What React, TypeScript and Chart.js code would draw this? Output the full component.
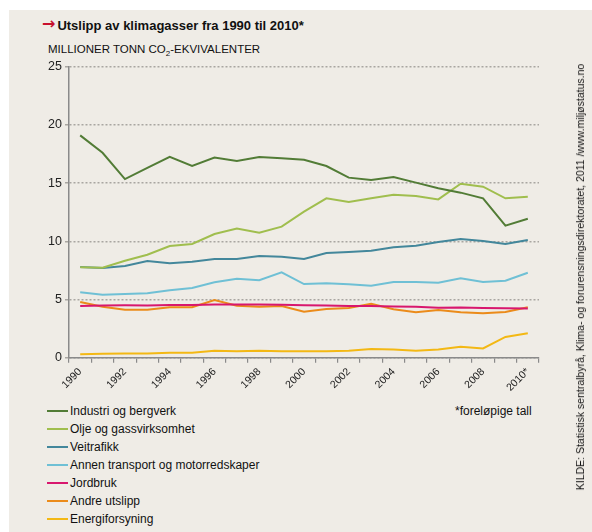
import React, { useEffect, useRef } from "react";
import { Chart, registerables } from "chart.js";
Chart.register(...registerables);

const years = ["1990","1991","1992","1993","1994","1995","1996","1997","1998","1999","2000","2001","2002","2003","2004","2005","2006","2007","2008","2009","2010*"];
const industri = [19.1,17.6,15.35,16.3,17.25,16.47,17.2,16.9,17.25,17.13,17.0,16.47,15.47,15.27,15.52,15.04,14.55,14.18,13.69,11.34,11.94];
const olje = [7.76,7.73,8.33,8.85,9.6,9.77,10.63,11.1,10.74,11.26,12.55,13.69,13.38,13.69,14.0,13.89,13.6,14.95,14.69,13.69,13.83];
const veitrafikk = [7.79,7.7,7.88,8.31,8.11,8.25,8.48,8.48,8.74,8.68,8.48,9.0,9.08,9.19,9.48,9.62,9.94,10.2,10.03,9.77,10.11];
const annenTransport = [5.62,5.41,5.47,5.53,5.79,5.99,6.48,6.79,6.65,7.34,6.33,6.39,6.3,6.19,6.5,6.5,6.44,6.82,6.5,6.62,7.3];
const jordbruk = [4.45,4.48,4.5,4.48,4.52,4.52,4.58,4.58,4.58,4.55,4.5,4.48,4.45,4.45,4.4,4.38,4.3,4.32,4.28,4.25,4.22];
const andre = [4.79,4.38,4.12,4.12,4.33,4.33,4.96,4.47,4.38,4.44,3.95,4.18,4.27,4.64,4.16,3.9,4.1,3.9,3.81,3.93,4.33];
const energi = [0.29,0.35,0.36,0.36,0.43,0.43,0.6,0.55,0.6,0.55,0.55,0.55,0.6,0.75,0.7,0.6,0.7,0.95,0.8,1.78,2.1];

const seriesNames = ["Industri og bergverk","Olje og gassvirksomhet","Veitrafikk","Annen transport og motorredskaper","Jordbruk","Andre utslipp","Energiforsyning"];
const seriesValues = [industri, olje, veitrafikk, annenTransport, jordbruk, andre, energi];
const seriesColors = ["#527c36","#a0be4e","#43879b","#6fc0d5","#d8176e","#eb8b1a","#f3b814"];

const FONT = "'Liberation Sans', Arial, sans-serif";

export default function App() {
  const ref = useRef<HTMLCanvasElement | null>(null);
  useEffect(() => {
    if (!ref.current) return;
    const chart = new Chart(ref.current, {
      type: "line",
      data: {
        labels: years,
        datasets: seriesNames.map((n, i) => ({
          label: n,
          data: seriesValues[i],
          borderColor: seriesColors[i],
          backgroundColor: seriesColors[i],
          borderWidth: 2,
          pointRadius: 0,
          tension: 0,
          fill: false,
        })),
      },
      options: {
        animation: false,
        responsive: false,
        maintainAspectRatio: false,
        layout: { padding: { left: 0, right: 53, top: 16.7, bottom: 0 } },
        plugins: { legend: { display: false }, tooltip: { enabled: false } },
        scales: {
          x: {
            type: "category",
            offset: true,
            grid: { offset: true, drawOnChartArea: false, drawTicks: true, tickLength: 5, color: "#8a8a8a", lineWidth: 1.2 },
            border: { display: true, color: "#8a8a8a", width: 1.5 },
            ticks: {
              autoSkip: false,
              maxRotation: 45,
              minRotation: 45,
              padding: 3,
              color: "#222",
              font: { family: FONT, size: 10.5 },
              callback: function (this: any, val: any, idx: number) {
                return idx % 2 === 0 ? this.getLabelForValue(val) : "";
              },
            },
            afterFit: (s: any) => { s.height = 38.3; },
          },
          y: {
            min: 0,
            max: 25,
            ticks: { stepSize: 5, color: "#222", padding: 3, font: { family: FONT, size: 12.5 } },
            grid: { color: "#a9a6a1", lineWidth: 1.5, tickLength: 4, drawTicks: true },
            border: { display: true, color: "#8a8a8a", width: 1.5, dash: [2, 2] },
            afterFit: (s: any) => { s.width = 69; },
          },
        },
      },
    });
    return () => chart.destroy();
  }, []);

  return (
    <div style={{ position: "absolute", left: 0, top: 0, width: 592, height: 532, background: "#fff", fontFamily: FONT, color: "#222", overflow: "hidden" }}>
      <div style={{ position: "absolute", left: 9, top: 10, right: 0, bottom: 0, background: "#efece6" }} />
      <div style={{ position: "absolute", left: 42, top: 17, fontSize: 13, fontWeight: "bold", whiteSpace: "nowrap", color: "#111", display: "flex", alignItems: "center" }}>
        <span style={{ color: "#c8102e", fontFamily: "'DejaVu Sans', sans-serif", fontSize: 16, fontWeight: "bold", lineHeight: "16px", marginRight: 2, position: "relative", top: -1 }}>→</span>
        <span>Utslipp av klimagasser fra 1990 til 2010*</span>
      </div>
      <div style={{ position: "absolute", left: 48, top: 43, fontSize: 11.5, whiteSpace: "nowrap", color: "#111" }}>
        MILLIONER TONN CO<sub style={{ fontSize: 8, verticalAlign: "-3px", lineHeight: 0 }}>2</sub>-EKVIVALENTER
      </div>
      <canvas ref={ref} width={592} height={346} style={{ position: "absolute", left: 0, top: 50, width: 592, height: 346 }} />
      <div style={{ position: "absolute", left: 47, top: 402, fontSize: 12, color: "#111" }}>
        {seriesNames.map((n, i) => (
          <div key={n} style={{ height: 18, display: "flex", alignItems: "center", whiteSpace: "nowrap" }}>
            <span style={{ display: "inline-block", width: 21, height: 2, background: seriesColors[i], marginRight: 2 }} />
            <span>{n}</span>
          </div>
        ))}
      </div>
      <div style={{ position: "absolute", left: 455, top: 402, fontSize: 12, lineHeight: "18px", color: "#111", whiteSpace: "nowrap" }}>*foreløpige tall</div>
      <div style={{ position: "absolute", left: 580, top: 277, transform: "translate(-50%, -50%) rotate(-90deg)", fontSize: 10.5, whiteSpace: "nowrap", color: "#111" }}>
        KILDE: Statistisk sentralbyrå, Klima- og forurensningsdirektoratet, 2011 /www.miljøstatus.no
      </div>
    </div>
  );
}
